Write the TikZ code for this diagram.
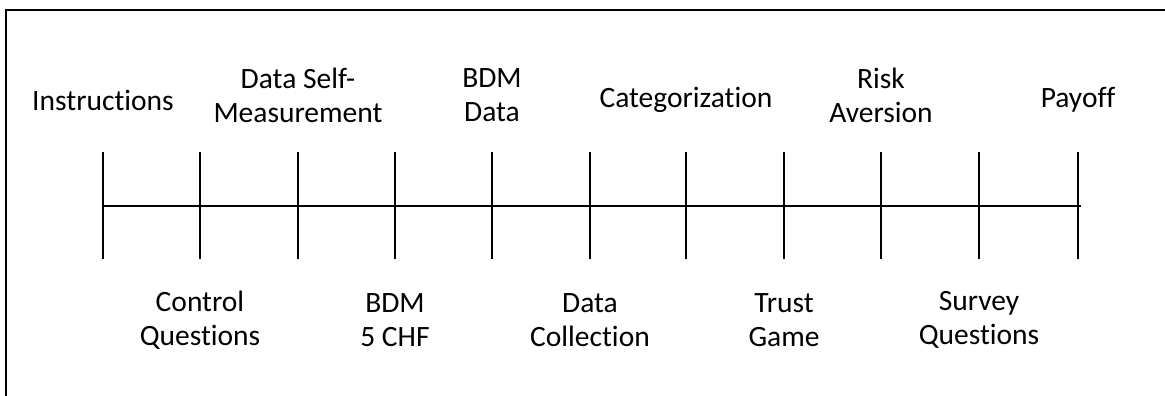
\documentclass[tikz,border=0pt]{standalone}
\usepackage{fontspec}
\setmainfont[Ligatures=NoCommon]{Carlito}
\usepackage{tikz}
\tikzset{
    stage-label/.style = {align=center, font=\fontsize{29.5}{34}\selectfont, inner sep=0pt},
    time-line/.style = {line width=2.5pt, black},
    frame-line/.style = {line width=1.5pt, black},
}

\begin{document}
\begin{tikzpicture}[x=1pt, y=-1pt]
\useasboundingbox (0,0) rectangle (1165,396);
\draw[frame-line] (6,396) -- (6,10) -- (1165,10);
% ticks along the time line
\foreach \i/\x in {0/103,1/200,2/298,3/395,4/492,5/590,6/686,7/784,8/881,9/979,10/1078} {
    \coordinate (t\i) at (\x,206);
    \coordinate (u\i) at (\x,152);
    \coordinate (d\i) at (\x,259);
    \draw[time-line] (u\i) -- (d\i);
}
\coordinate (end) at (1081,206);
\draw[time-line] (t0) -- (end);
% stages above the line
\node[stage-label] (instr) at (103,100) {Instructions};
\node[stage-label] (selfm) at (298,95) {Data Self-\\Measurement};
\node[stage-label] (bdmd) at (492,95) {BDM\\Data};
\node[stage-label] (categ) at (686,100) {Categorization};
\node[stage-label] (risk) at (881,95) {Risk\\Aversion};
\node[stage-label] (pay) at (1078,100) {Payoff};
% stages below the line
\node[stage-label] (ctrl) at (200,320) {Control\\Questions};
\node[stage-label] (bdmf) at (395,320) {BDM\\5 CHF};
\node[stage-label] (coll) at (590,320) {Data\\Collection};
\node[stage-label] (trust) at (784,320) {Trust\\Game};
\node[stage-label] (survey) at (979,320) {Survey\\Questions};
\end{tikzpicture}
\end{document}
